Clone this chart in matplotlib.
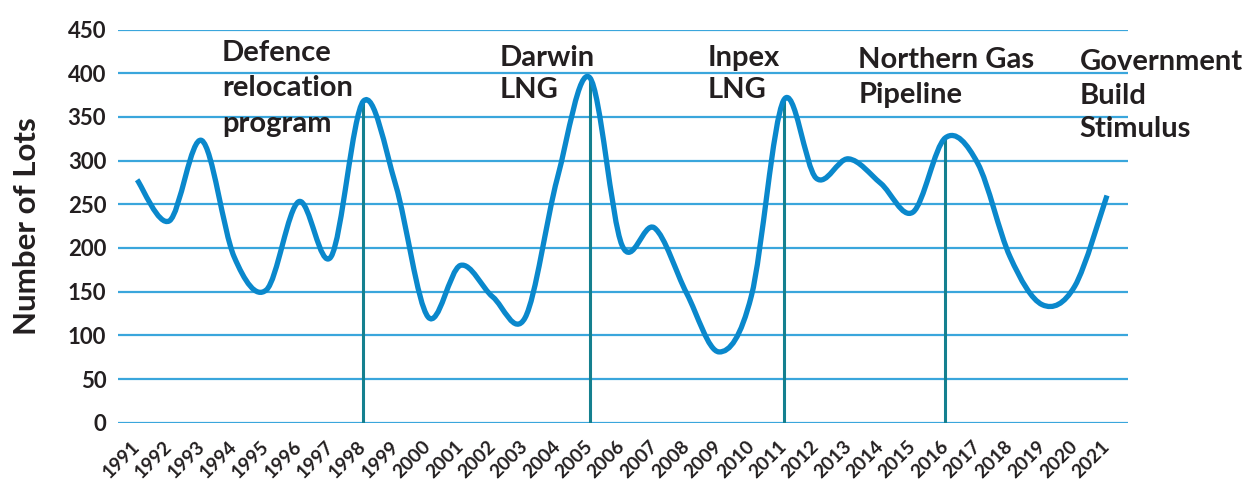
import matplotlib
matplotlib.use("Agg")
import matplotlib.pyplot as plt
from matplotlib.path import Path
from matplotlib.patches import PathPatch
import numpy as np

years = list(range(1991, 2022))
lots = [278, 231, 323, 190, 152, 253, 190, 368, 272, 121,
        180, 144, 120, 280, 395, 203, 223, 148, 81, 145,
        369, 280, 302, 274, 241, 326, 297, 190, 135, 156, 260]

event_years = [1998, 2005, 2011, 2016]
event_labels = ["Defence\nrelocation\nprogram", "Darwin\nLNG", "Inpex\nLNG",
                "Northern Gas\nPipeline", "Government\nBuild\nStimulus"]
yticks = [0, 50, 100, 150, 200, 250, 300, 350, 400, 450]

CURVE = "#0a88cc"
GRID = "#3aa6dc"
TEAL = "#14808f"
TXT = "#231f20"
FONT = "Lato"

fig = plt.figure(figsize=(12.49, 4.82), dpi=100)
ax = fig.add_axes([118/1249, 1-422.7/482, (1128-118)/1249, (422.7-29.5)/482])

ax.set_xlim(1990.41, 2021.65)
ax.set_ylim(0, 450)

for yv in yticks:
    ax.axhline(yv, color=GRID, lw=1.6, zorder=1)

lookup = dict(zip(years, lots))
ax.vlines(event_years, 0, [lookup[y] for y in event_years], color=TEAL, lw=2.2, zorder=2)

# smooth curve (Catmull-Rom as cubic Bezier)
x = np.array(years, dtype=float)
y = np.array(lots, dtype=float)
n = len(x)
verts = [(x[0], y[0])]
codes = [Path.MOVETO]
for i in range(n - 1):
    p0 = np.array([x[max(i - 1, 0)], y[max(i - 1, 0)]])
    p1 = np.array([x[i], y[i]])
    p2 = np.array([x[i + 1], y[i + 1]])
    p3 = np.array([x[min(i + 2, n - 1)], y[min(i + 2, n - 1)]])
    c1 = p1 + (p2 - p0) / 6.0
    c2 = p2 - (p3 - p1) / 6.0
    verts += [tuple(c1), tuple(c2), tuple(p2)]
    codes += [Path.CURVE4] * 3
patch = PathPatch(Path(verts, codes), fill=False, edgecolor=CURVE, lw=3.8,
                  capstyle="butt", joinstyle="round", zorder=3)
ax.add_patch(patch)

for s in ax.spines.values():
    s.set_visible(False)
ax.tick_params(axis="both", length=0)
ax.set_yticks(yticks)
ax.set_yticklabels([str(v) for v in yticks], fontsize=16, fontweight="bold",
                   family=FONT, color=TXT)
ax.tick_params(axis="y", pad=8.5)
ax.set_xticks(years)
ax.set_xticklabels([str(v) for v in years], fontsize=13.8, fontweight="bold",
                   family=FONT, color=TXT, rotation=45, ha="right", va="center",
                   rotation_mode="anchor")
ax.tick_params(axis="x", pad=15)

ax.set_ylabel("Number of Lots", fontsize=22.5, fontweight="bold", family=FONT,
              color=TXT, labelpad=19)

# positions: left edge, baseline of last line, line spacing
label_pos = [(1993.62, 333.0, 1.44), (2002.2, 371.3, 1.31), (2008.66, 371.1, 1.33),
             (2013.31, 365.6, 1.42), (2020.15, 326.4, 1.38)]
for (tx, ty, ls), lab in zip(label_pos, event_labels):
    ax.text(tx, ty, lab, fontsize=21, fontweight="bold", family=FONT, color=TXT,
            ha="left", va="baseline", linespacing=ls, zorder=4, clip_on=False)

fig.savefig("out.png", dpi=100)
